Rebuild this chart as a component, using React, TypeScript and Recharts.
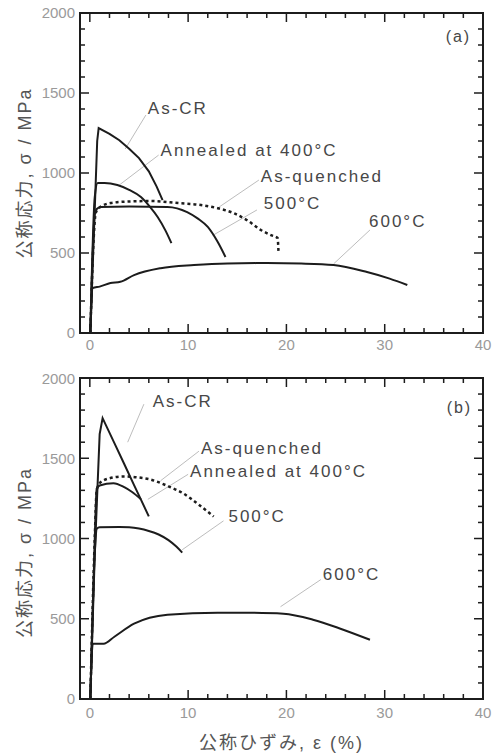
import { Line, LineChart, ReferenceArea, ReferenceDot, XAxis, YAxis } from "recharts"

type Pt = { x: number; s: number }
const pts = (rows: number[][]): Pt[] => rows.map(([x, s]) => ({ x, s }))

// axis ticks
const xTicks = [0, 10, 20, 30, 40]
const xMinorTicks = [0, 2, 4, 6, 8, 10, 12, 14, 16, 18, 20, 22, 24, 26, 28, 30, 32, 34, 36, 38, 40]
const yTicks = [0, 500, 1000, 1500, 2000]
const yMinorTicks = [
  0, 100, 200, 300, 400, 500, 600, 700, 800, 900, 1000,
  1100, 1200, 1300, 1400, 1500, 1600, 1700, 1800, 1900, 2000,
]

// (a) nominal strain % vs nominal stress MPa
const asCrA = pts([[0.05, 0], [0.4, 600], [0.75, 1200], [0.9, 1281], [2, 1245], [3, 1205], [4, 1152], [5, 1093], [6, 1010], [6.8, 915], [7.4, 831]])
const ann400A = pts([[0.05, 0], [0.5, 850], [0.8, 938], [1.5, 938], [2.8, 925], [4, 895], [5.2, 850], [6.1, 790], [6.9, 725], [7.7, 640], [8.3, 562]])
const quenchA = pts([[0.05, 0], [0.4, 600], [0.6, 750], [1, 785], [2.1, 812], [4, 822], [6.2, 825], [9, 812], [11.3, 800], [13, 780], [14.6, 750], [16, 705], [17.4, 644], [18.5, 610], [19.1, 594], [19.2, 500]])
const t500A = pts([[0.05, 0], [0.5, 740], [0.7, 775], [1.1, 788], [4, 790], [7.9, 788], [9.9, 756], [11, 715], [12, 663], [13, 570], [13.8, 475]])
const t600A = pts([[0.05, 0], [0.3, 281], [1, 290], [2.1, 312], [3.1, 320], [4.5, 362], [7.2, 405], [10.6, 425], [14, 435], [18, 437], [21.5, 434], [24.8, 425], [28.2, 381], [30.5, 340], [32.3, 300]])

// (b)
const asCrB = pts([[0.05, 0], [0.5, 900], [1, 1650], [1.3, 1750], [2.5, 1594], [3.5, 1464], [4.5, 1333], [5.2, 1242], [6, 1138]])
const quenchB = pts([[0.05, 0], [0.5, 1000], [0.7, 1300], [1, 1345], [2, 1375], [3.5, 1387], [5, 1380], [6, 1370], [8, 1325], [9.5, 1281], [11, 1215], [12.6, 1137]])
const ann400B = pts([[0.05, 0], [0.5, 1000], [0.7, 1310], [1, 1330], [2.4, 1345], [3.5, 1320], [4.3, 1290], [5.2, 1245]])
const t500B = pts([[0.05, 0], [0.5, 900], [0.7, 1060], [1, 1070], [3, 1072], [4, 1070], [5, 1062], [6, 1047], [7, 1025], [8, 990], [8.8, 950], [9.4, 912]])
const t600B = pts([[0.05, 0], [0.3, 344], [1.4, 344], [2.5, 388], [4.5, 469], [7.9, 525], [13, 538], [16.5, 537], [19.7, 531], [22.7, 494], [25.5, 438], [28.5, 369]])

// leader lines (label -> curve)
const leadersA = [
  pts([[5.7, 1362], [3.6, 1150]]),
  pts([[7.0, 1112], [3.0, 925]]),
  pts([[17.2, 956], [13.1, 785]]),
  pts([[17.0, 769], [12.5, 610]]),
  pts([[28.5, 644], [24.8, 432]]),
]
const leadersB = [
  pts([[5.5, 1837], [3.85, 1600]]),
  pts([[11.1, 1544], [7.2, 1360]]),
  pts([[10.0, 1400], [5.9, 1244]]),
  pts([[13.6, 1110], [9.4, 930]]),
  pts([[23.5, 744], [19.4, 575]]),
]

// labels: text, left edge x, middle s
const notesA = [
  { text: "As-CR", x: 5.9, s: 1406 },
  { text: "Annealed at 400°C", x: 7.2, s: 1140 },
  { text: "As-quenched", x: 17.4, s: 981 },
  { text: "500°C", x: 17.7, s: 812 },
  { text: "600°C", x: 28.4, s: 694 },
]
const notesB = [
  { text: "As-CR", x: 6.4, s: 1856 },
  { text: "As-quenched", x: 11.3, s: 1562 },
  { text: "Annealed at 400°C", x: 10.2, s: 1419 },
  { text: "500°C", x: 14.1, s: 1138 },
  { text: "600°C", x: 23.7, s: 775 },
]

const INK = "#1c1c1c"
const TICK = "#9a9a9a"
const NOTE = "#474747"
const LEAD = "#bdbdbd"
const FONT = "'Liberation Sans', Arial, 'Noto Sans CJK JP', sans-serif"
const X_DOMAIN: [number, number] = [-1, 40]
const Y_DOMAIN: [number, number] = [0, 2000]

interface Curve {
  data: Pt[]
  dashed?: boolean
  straight?: boolean
}

interface PanelProps {
  id: string
  curves: Curve[]
  leaders: Pt[][]
  notes: { text: string; x: number; s: number }[]
  tag: { text: string; x: number; s: number }
  height: number
  top: number
  xHeight: number
  tickGap: number
  yShift: number
  xTitle?: string
}

// inward tick mark at a scale-placed point; dx/dy give direction and length
const tickMark = (dx: number, dy: number) => (p: any) => (
  <path d={`M${p.cx},${p.cy}l${dx},${dy}`} stroke={INK} strokeWidth={1.5} fill="none" />
)

function Panel({ id, curves, leaders, notes, tag, height, top, xHeight, tickGap, yShift, xTitle }: PanelProps) {
  const [x0, x1] = X_DOMAIN
  const [y0, y1] = Y_DOMAIN
  const len = (v: number, majors: number[]) => (majors.includes(v) ? 9 : 5)
  const frame = { stroke: INK, strokeWidth: 2 }

  return (
    <LineChart id={id} width={493} height={height} margin={{ top, right: 10, bottom: 0, left: 0 }}>
      <XAxis
        xAxisId="x"
        type="number"
        dataKey="x"
        domain={X_DOMAIN}
        ticks={xTicks}
        height={xHeight}
        tickSize={0}
        tickMargin={tickGap}
        tickLine={false}
        axisLine={frame}
        tick={{ fill: TICK, fontSize: 15, fontFamily: FONT }}
        label={
          xTitle
            ? ({ viewBox }: any) => (
                <text
                  x={viewBox.x + viewBox.width / 2}
                  y={viewBox.y + viewBox.height - 5}
                  textAnchor="middle"
                  fill="#555"
                  fontSize={18}
                  fontFamily={FONT}
                  letterSpacing={2}
                >
                  {xTitle}
                </text>
              )
            : undefined
        }
      />
      <YAxis
        yAxisId="y"
        type="number"
        domain={Y_DOMAIN}
        ticks={yTicks}
        width={80}
        tickSize={0}
        tickMargin={5}
        tickLine={false}
        axisLine={frame}
        tick={{ fill: TICK, fontSize: 15, fontFamily: FONT }}
        label={({ viewBox }: any) => {
          const cx = viewBox.x + 25
          const cy = viewBox.y + viewBox.height / 2 + yShift
          return (
            <text
              x={cx}
              y={cy}
              transform={`rotate(-90 ${cx} ${cy})`}
              textAnchor="middle"
              dominantBaseline="central"
              fill="#555"
              fontSize={18}
              fontFamily={FONT}
              letterSpacing={2}
            >
              公称応力, σ / MPa
            </text>
          )
        }}
      />

      {/* frame */}
      <ReferenceArea xAxisId="x" yAxisId="y" x1={x0} x2={x1} y1={y0} y2={y1} fill="none" fillOpacity={0} stroke={INK} strokeWidth={2} />

      {/* inward ticks on all four sides */}
      {xMinorTicks.map((v) => (
        <ReferenceDot key={"tb" + v} xAxisId="x" yAxisId="y" x={v} y={y0} r={0} shape={tickMark(0, -len(v, xTicks))} />
      ))}
      {xMinorTicks.map((v) => (
        <ReferenceDot key={"tt" + v} xAxisId="x" yAxisId="y" x={v} y={y1} r={0} shape={tickMark(0, len(v, xTicks))} />
      ))}
      {yMinorTicks.map((v) => (
        <ReferenceDot key={"tl" + v} xAxisId="x" yAxisId="y" x={x0} y={v} r={0} shape={tickMark(len(v, yTicks), 0)} />
      ))}
      {yMinorTicks.map((v) => (
        <ReferenceDot key={"tr" + v} xAxisId="x" yAxisId="y" x={x1} y={v} r={0} shape={tickMark(-len(v, yTicks), 0)} />
      ))}

      {leaders.map((d, i) => (
        <Line
          key={"lead" + i}
          xAxisId="x"
          yAxisId="y"
          data={d}
          dataKey="s"
          type="linear"
          stroke={LEAD}
          strokeWidth={1}
          dot={false}
          activeDot={false}
          isAnimationActive={false}
        />
      ))}

      {curves.map((c, i) => (
        <Line
          key={"curve" + i}
          xAxisId="x"
          yAxisId="y"
          data={c.data}
          dataKey="s"
          type={c.straight ? "linear" : "monotoneX"}
          stroke={INK}
          strokeWidth={c.dashed ? 2.5 : 2}
          strokeDasharray={c.dashed ? "3 3" : undefined}
          dot={false}
          activeDot={false}
          isAnimationActive={false}
        />
      ))}

      {[...notes, tag].map((n, i) => (
        <ReferenceDot
          key={"note" + i}
          xAxisId="x"
          yAxisId="y"
          x={n.x}
          y={n.s}
          r={0}
          shape={(p: any) => (
            <text
              x={p.cx}
              y={p.cy}
              dominantBaseline="central"
              fill={NOTE}
              fontSize={n === tag ? 16 : 17}
              fontFamily={FONT}
              letterSpacing={2}
            >
              {n.text}
            </text>
          )}
        />
      ))}
    </LineChart>
  )
}

export default function App() {
  return (
    <div style={{ width: 493, height: 754, background: "#fff" }}>
      <style>{`body{margin:0}`}</style>
      <Panel
        id="panel-a"
        curves={[
          { data: asCrA, straight: true },
          { data: ann400A },
          { data: quenchA, dashed: true },
          { data: t500A },
          { data: t600A },
        ]}
        leaders={leadersA}
        notes={notesA}
        tag={{ text: "(a)", x: 36.2, s: 1855 }}
        height={370}
        top={13}
        xHeight={37}
        tickGap={6}
        yShift={0}
      />
      <Panel
        id="panel-b"
        curves={[
          { data: asCrB, straight: true },
          { data: quenchB, dashed: true },
          { data: ann400B },
          { data: t500B },
          { data: t600B },
        ]}
        leaders={leadersB}
        notes={notesB}
        tag={{ text: "(b)", x: 36.3, s: 1818 }}
        height={384}
        top={8}
        xHeight={55}
        tickGap={8}
        yShift={14}
        xTitle="公称ひずみ, ε (%)"
      />
    </div>
  )
}
